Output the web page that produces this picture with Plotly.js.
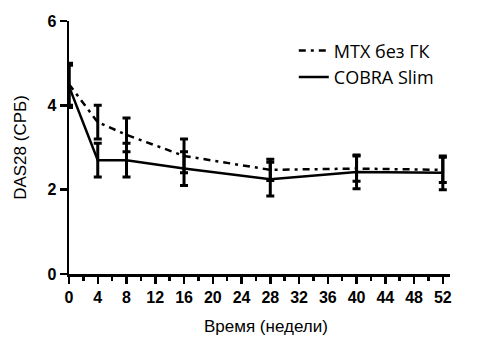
<!DOCTYPE html>
<html>
<head>
<meta charset="utf-8">
<script src="https://cdn.plot.ly/plotly-3.0.1.min.js"></script>
<style>html,body{margin:0;padding:0;background:#fff;}#chart{width:478px;height:354px;}</style>
</head>
<body>
<div id="chart"></div>
<script>
const weeks = [0, 4, 8, 16, 28, 40, 52];
const mtxValues = [4.5, 3.6, 3.3, 2.8, 2.47, 2.5, 2.47];
const mtxErrors = [0.5, 0.4, 0.4, 0.4, 0.25, 0.3, 0.3];
const cobraValues = [4.45, 2.7, 2.7, 2.5, 2.25, 2.42, 2.4];
const cobraErrors = [0.5, 0.4, 0.4, 0.4, 0.4, 0.4, 0.4];
const seriesNames = ["MTX без ГК", "COBRA Slim"];
const xTickVals = [0, 4, 8, 12, 16, 20, 24, 28, 32, 36, 40, 44, 48, 52];
const yTickVals = [0, 2, 4, 6];
const xTitle = 'Время (недели)';
const yTitle = 'DAS28 (СРБ)';

const errStyle = {type: 'data', visible: true, color: '#000', thickness: 3, width: 4};

const traces = [
  {
    x: weeks, y: mtxValues, name: seriesNames[0], type: 'scatter', mode: 'lines',
    line: {color: '#000', width: 2.5, dash: '7px,5px,3px,5px'},
    error_y: Object.assign({array: mtxErrors}, errStyle),
    cliponaxis: false, hoverinfo: 'skip'
  },
  {
    x: weeks, y: cobraValues, name: seriesNames[1], type: 'scatter', mode: 'lines',
    line: {color: '#000', width: 2.5},
    error_y: Object.assign({array: cobraErrors}, errStyle),
    cliponaxis: false, hoverinfo: 'skip'
  }
];

const tickFont = {family: 'Liberation Sans, Arial, sans-serif', size: 16, color: '#000', weight: 'bold'};

const layout = {
  width: 478, height: 354,
  margin: {l: 69, r: 28, t: 21, b: 80},
  paper_bgcolor: '#fff', plot_bgcolor: '#fff',
  showlegend: true,
  legend: {
    x: 0.59, y: 0.955, xanchor: 'left', yanchor: 'top',
    font: {family: 'Open Sans, sans-serif', size: 18, color: '#000'},
    bgcolor: 'rgba(0,0,0,0)', tracegroupgap: 0, itemwidth: 30
  },
  xaxis: {
    range: [0, 53], tickvals: xTickVals, ticktext: xTickVals.map(String),
    showline: true, linecolor: '#000', linewidth: 2.5,
    ticks: 'outside', ticklen: 7, tickwidth: 2.5, tickcolor: '#000',
    minor: {dtick: 2, tick0: 0, ticks: 'outside', ticklen: 4, tickwidth: 2.5, tickcolor: '#000'},
    showgrid: false, zeroline: false, tickfont: tickFont
  },
  yaxis: {
    range: [0, 6], tickvals: yTickVals, ticktext: yTickVals.map(String),
    showline: true, linecolor: '#000', linewidth: 2.5,
    ticks: 'outside', ticklen: 7, tickwidth: 2.5, tickcolor: '#000',
    showgrid: false, zeroline: false, tickfont: tickFont,
    title: {text: yTitle, font: {family: 'Liberation Sans, Arial, sans-serif', size: 17, color: '#000'}, standoff: 17}
  },
  annotations: [
    {
      text: xTitle, xref: 'paper', yref: 'paper', x: 0.517, y: -0.209,
      xanchor: 'center', yanchor: 'middle', showarrow: false,
      font: {family: 'Liberation Sans, Arial, sans-serif', size: 17, color: '#000'}
    }
  ]
};

Plotly.newPlot('chart', traces, layout, {displayModeBar: false, staticPlot: true});
</script>
</body>
</html>
